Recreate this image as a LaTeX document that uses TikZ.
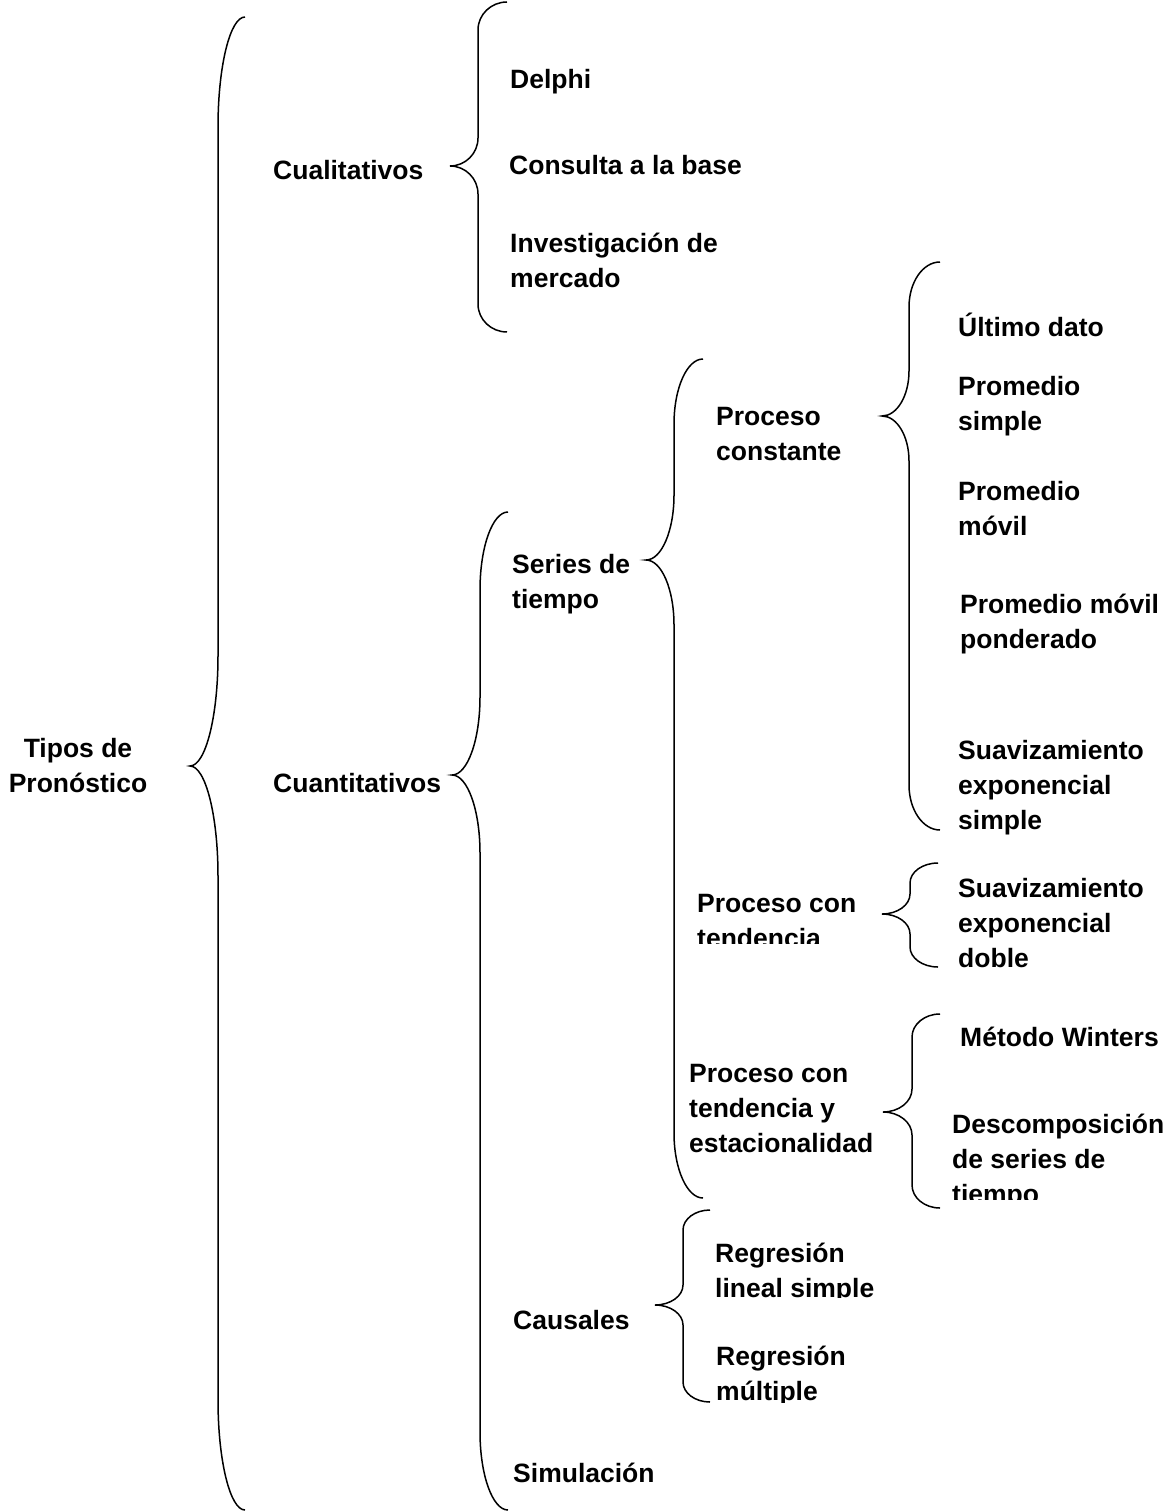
\documentclass[tikz,border=0pt]{standalone}
\usepackage{fontspec}
\setmainfont{Liberation Sans}
\newcommand{\mylines}[1]{\begin{tabular}[t]{@{}l@{}}#1\end{tabular}}
\newcommand{\mylinesc}[1]{\begin{tabular}[t]{@{}c@{}}#1\end{tabular}}
% xe, xv, xt, ytop, ytip, ybot, r
\newcommand{\mybrace}[7]{%
  \pgfmathsetmacro{\ka}{0.5523*(#1-#2)}%
  \pgfmathsetmacro{\kb}{0.5523*(#2-#3)}%
  \pgfmathsetmacro{\kr}{0.5523*#7}%
  \draw[bracestyle] (#1,#4) .. controls (#1-\ka,#4) and (#2,#4+#7-\kr) .. (#2,#4+#7)
    -- (#2,#5-#7) .. controls (#2,#5-#7+\kr) and (#3+\kb,#5) .. (#3,#5)
    .. controls (#3+\kb,#5) and (#2,#5+#7-\kr) .. (#2,#5+#7)
    -- (#2,#6-#7) .. controls (#2,#6-#7+\kr) and (#1-\ka,#6) .. (#1,#6);%
}
\begin{document}
\begin{tikzpicture}[x=1pt,y=-1pt,
  bracestyle/.style={draw=black,line width=1.5pt},
  lbl/.style={inner sep=0pt,anchor=base west,font=\fontsize{26.5}{35}\selectfont\bfseries},
  lblc/.style={inner sep=0pt,anchor=base,font=\fontsize{26.5}{35}\selectfont\bfseries}]
\useasboundingbox[fill=white] (0,0) rectangle (1172,1511);

% braces
\mybrace{245}{218}{190}{17}{766}{1510}{110}
\mybrace{507}{478}{450}{2}{166}{332}{28}
\mybrace{508}{480}{452}{512}{775}{1510}{78}
\mybrace{703}{674}{646}{359}{560}{1198}{65}
\mybrace{940}{909}{882}{262}{416}{830}{45}
\mybrace{938}{910}{882}{863}{914}{967}{20}
\mybrace{940}{912}{883}{1014}{1112}{1208}{23}
\mybrace{710}{683}{655}{1210}{1305}{1402}{20}

% level 0
\node[lblc] (tipos) at (78,757) {\mylinesc{Tipos de\\Pronóstico}};
% level 1
\node[lbl] (cuali) at (273,180) {Cualitativos};
\node[lbl] (cuanti) at (273,792) {Cuantitativos};
% cualitativos
\node[lbl] (delphi) at (510,89) {Delphi};
\node[lbl] (consulta) at (509,175) {Consulta a la base};
\node[lbl] (invest) at (510,253) {\mylines{Investigación de\\mercado}};
% cuantitativos
\node[lbl] (series) at (512,573) {\mylines{Series de\\tiempo}};
\node[lbl] (causales) at (513,1329) {Causales};
\node[lbl] (simul) at (513,1482) {Simulación};
% series de tiempo
\node[lbl] (pconst) at (716,425) {\mylines{Proceso\\constante}};
\begin{scope}
\clip (690,870) rectangle (880,943);
\node[lbl] (ptend) at (697,912) {\mylines{Proceso con\\tendencia}};
\end{scope}
\node[lbl] (pestac) at (689,1082) {\mylines{Proceso con\\tendencia y\\estacionalidad}};
% proceso constante
\node[lbl] (ultimo) at (958,336) {Último dato};
\node[lbl] (psimple) at (958,395) {\mylines{Promedio\\simple}};
\node[lbl] (pmovil) at (958,500) {\mylines{Promedio\\móvil}};
\node[lbl] (pmpond) at (960,613) {\mylines{Promedio móvil\\ponderado}};
\node[lbl] (suavs) at (958,759) {\mylines{Suavizamiento\\exponencial\\simple}};
% tendencia
\node[lbl] (suavd) at (958,897) {\mylines{Suavizamiento\\exponencial\\doble}};
% estacionalidad
\node[lbl] (winters) at (960,1046) {Método Winters};
\begin{scope}
\clip (940,1100) rectangle (1172,1199);
\node[lbl] (descomp) at (952,1133) {\mylines{Descomposición\\de series de\\tiempo}};
\end{scope}
% causales
\begin{scope}
\clip (700,1230) rectangle (900,1297);
\node[lbl] (rlin) at (715,1262) {\mylines{Regresión\\lineal simple}};
\end{scope}
\begin{scope}
\clip (700,1330) rectangle (900,1402);
\node[lbl] (rmult) at (716,1365) {\mylines{Regresión\\múltiple}};
\end{scope}
\end{tikzpicture}
\end{document}
